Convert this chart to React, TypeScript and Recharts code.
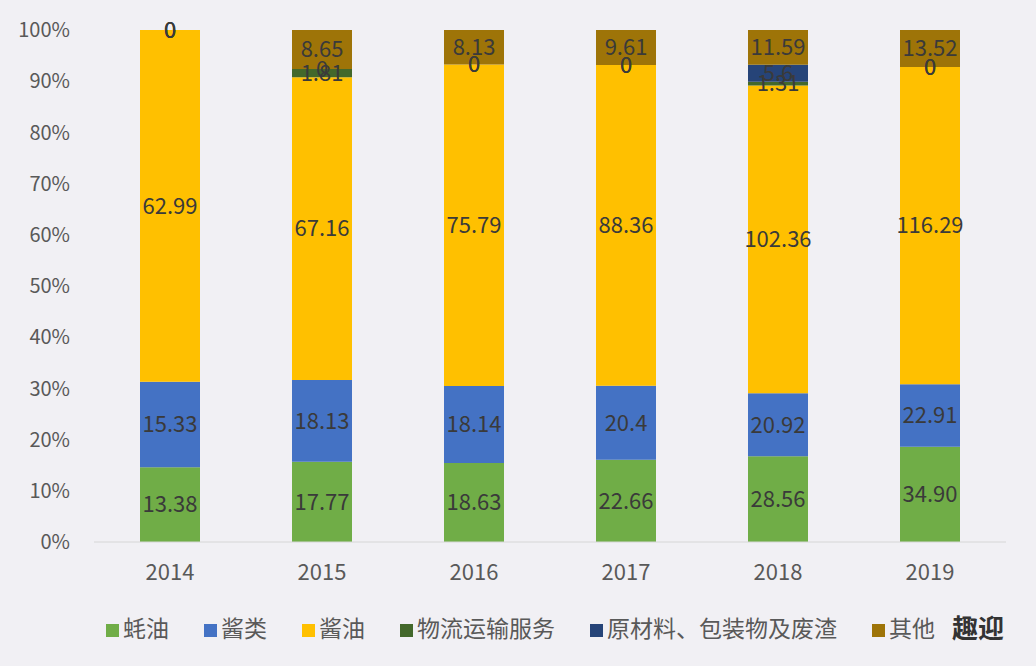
import { Bar, BarChart, LabelList, Legend, XAxis, YAxis } from "recharts";

const years = ["2014", "2015", "2016", "2017", "2018", "2019"];
const haoyou = [13.38, 17.77, 18.63, 22.66, 28.56, 34.9];
const jianglei = [15.33, 18.13, 18.14, 20.4, 20.92, 22.91];
const jiangyou = [62.99, 67.16, 75.79, 88.36, 102.36, 116.29];
const wuliu = [0, 1.81, 0, 0, 1.31, 0];
const yuancailiao = [0, 0, 0, 0, 5.6, 0];
const qita = [0, 8.65, 8.13, 9.61, 11.59, 13.52];
const yTicks = [0, 0.1, 0.2, 0.3, 0.4, 0.5, 0.6, 0.7, 0.8, 0.9, 1];

const series = [
  { key: "haoyou", name: "蚝油", color: "#70ad47", values: haoyou },
  { key: "jianglei", name: "酱类", color: "#4472c4", values: jianglei },
  { key: "jiangyou", name: "酱油", color: "#ffc000", values: jiangyou },
  { key: "wuliu", name: "物流运输服务", color: "#43682b", values: wuliu },
  { key: "yuancailiao", name: "原材料、包装物及废渣", color: "#264478", values: yuancailiao },
  { key: "qita", name: "其他", color: "#9e7408", values: qita },
];
const legendOrder = series.map((s) => s.name);

const data = years.map((year, i) => {
  const row: Record<string, string | number> = { year };
  series.forEach((s) => {
    row[s.key] = s.values[i];
  });
  return row;
});

const fontFamily = "'Noto Sans CJK SC', 'Noto Sans', sans-serif";

const formatLabel = (v: number, key: string) => {
  if (v === 0) return "0";
  if (key === "haoyou" && v === 34.9) return "34.90";
  return String(v);
};

export default function App() {
  return (
    <div
      style={{
        position: "absolute",
        left: 0,
        top: 0,
        width: 1036,
        height: 666,
        background: "#f1f0f4",
        fontFamily,
      }}
    >
      <BarChart
        width={1036}
        height={666}
        data={data}
        stackOffset="expand"
        barCategoryGap={46}
        margin={{ top: 30, right: 30, left: 0, bottom: 0 }}
      >
        <XAxis
          dataKey="year"
          height={48}
          tickLine={false}
          axisLine={{ stroke: "#d6d6d6" }}
          tickMargin={16}
          tick={{ fill: "#595959", fontSize: 22, fontFamily }}
        />
        <YAxis
          width={94}
          ticks={yTicks}
          domain={[0, 1]}
          axisLine={false}
          tickLine={false}
          tickMargin={18}
          tickFormatter={(v: number) => `${Math.round(v * 100)}%`}
          tick={{ fill: "#595959", fontSize: 20, fontFamily }}
        />
        <Legend
          verticalAlign="bottom"
          height={76}
          iconType="square"
          iconSize={13}
          itemSorter={(item: { value: string }) => legendOrder.indexOf(item.value)}
          wrapperStyle={{ height: 76, paddingTop: 20, paddingLeft: 70, boxSizing: "border-box", fontSize: 23, fontFamily }}
          formatter={(value: string) => <span style={{ color: "#595959", marginRight: 25 }}>{value}</span>}
        />
        {series.map((s) => (
          <Bar
            key={s.key}
            dataKey={s.key}
            name={s.name}
            stackId="a"
            fill={s.color}
            minPointSize={0.1}
            isAnimationActive={false}
          >
            <LabelList
              dataKey={s.key}
              position="center"
              formatter={(v: number) => formatLabel(v, s.key)}
              style={{ fill: "#3a3a3a", fontSize: 22, fontFamily }}
            />
          </Bar>
        ))}
      </BarChart>
      <div
        style={{
          position: "absolute",
          left: 952,
          top: 608,
          fontSize: 26,
          color: "#333",
          fontWeight: 700,
        }}
      >
        趣迎
      </div>
    </div>
  );
}
